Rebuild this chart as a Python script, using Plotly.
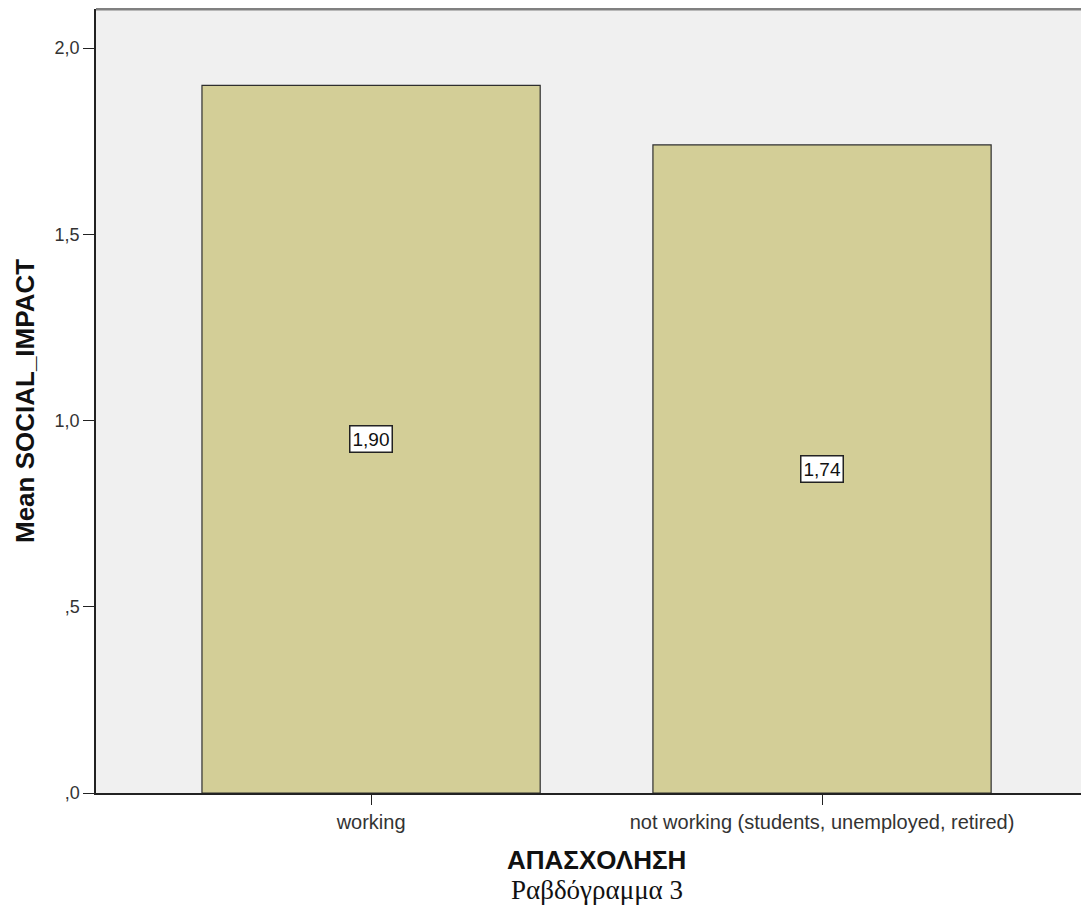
import plotly.graph_objects as go

categories = ["working", "not working (students, unemployed, retired)"]
means = [1.90, 1.74]
labels = ["1,90", "1,74"]
ytick_vals = [0, 0.5, 1.0, 1.5, 2.0]
ytick_text = [",0", ",5", "1,0", "1,5", "2,0"]

FONT = "Arial, Liberation Sans, sans-serif"

fig = go.Figure()
fig.add_trace(go.Bar(
    x=[0, 1], y=means, width=0.75,
    marker=dict(color="#d3ce97", line=dict(color="#2e2e2e", width=1.2)),
    hoverinfo="skip", showlegend=False,
))

for i, (m, lab) in enumerate(zip(means, labels)):
    fig.add_annotation(
        x=i, y=m / 2, text=lab, showarrow=False,
        font=dict(family=FONT, size=19, color="#111"),
        bgcolor="white", bordercolor="#222", borderwidth=1.5, borderpad=2,
    )

fig.add_annotation(
    xref="paper", yref="paper", x=0, y=0.5, xshift=-71, xanchor="center", yanchor="middle",
    text="<b>Mean SOCIAL_IMPACT</b>", textangle=-90, showarrow=False,
    font=dict(family=FONT, size=26, color="#111"),
)
fig.add_annotation(
    xref="x", yref="paper", x=0.5, y=0, yshift=-67, xanchor="center", yanchor="middle",
    text="<b>ΑΠΑΣΧΟΛΗΣΗ</b>", showarrow=False,
    font=dict(family=FONT, size=26, color="#111"),
)
fig.add_annotation(
    xref="x", yref="paper", x=0.5, y=0, yshift=-97, xanchor="center", yanchor="middle",
    text="Ραβδόγραμμα 3", showarrow=False,
    font=dict(family="Liberation Serif, Times New Roman, serif", size=27, color="#111"),
)

fig.add_shape(type="line", xref="paper", yref="paper", x0=0, x1=1, y0=1, y1=1,
              line=dict(color="#808080", width=3))

fig.update_layout(
    width=1081, height=906,
    margin=dict(l=88, r=0, t=1, b=121),
    paper_bgcolor="white", plot_bgcolor="#f0f0f0",
    font=dict(family=FONT, color="#333"),
    xaxis=dict(
        range=[-0.61, 1.592], tickvals=[0, 1], ticktext=categories,
        showgrid=False, zeroline=False, showline=True, linecolor="#222", linewidth=1.5,
        ticks="outside", ticklen=10, tickcolor="#222", tickwidth=1.2,
        tickfont=dict(size=20, color="#333"),
    ),
    yaxis=dict(
        range=[0, 2.105], tickvals=ytick_vals, ticktext=ytick_text,
        showgrid=False, zeroline=False, showline=True, linecolor="#222", linewidth=1.5,
        ticks="outside", ticklen=11, tickcolor="#222", tickwidth=1.2,
        tickfont=dict(size=18, color="#333"),
    ),
)

fig.write_html("out.html")
